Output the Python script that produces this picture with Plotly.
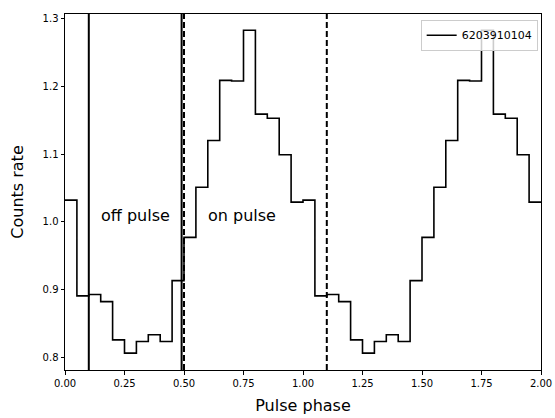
import plotly.graph_objects as go

# Pulse profile, 20 phase bins (width 0.05), shown over two cycles
bin_width = 0.05
profile = [1.032, 0.8905, 0.8925, 0.882, 0.8255, 0.806, 0.823, 0.833, 0.823, 0.913,
           0.977, 1.051, 1.120, 1.209, 1.208, 1.283, 1.159, 1.153, 1.099, 1.029]
n_cycles = 2
series_name = "6203910104"

# Phase boundaries
solid_lines = [0.1, 0.49]
dashed_lines = [0.5, 1.1]

labels = ["off pulse", "on pulse"]
label_x = [0.15, 0.6]
label_y = [1.0, 1.0]

x_ticks = [0.0, 0.25, 0.5, 0.75, 1.0, 1.25, 1.5, 1.75, 2.0]
y_ticks = [0.8, 0.9, 1.0, 1.1, 1.2, 1.3]

values = profile * n_cycles
edges = [i * bin_width for i in range(len(values) + 1)]
yvals = values + [values[-1]]

font = "DejaVu Sans"
fig = go.Figure()
fig.add_trace(go.Scatter(x=edges, y=yvals, mode="lines", line_shape="hv",
                         line=dict(color="black", width=1.6), name=series_name,
                         showlegend=True))

for xv in solid_lines:
    fig.add_shape(type="line", x0=xv, x1=xv, y0=0, y1=1, xref="x", yref="paper",
                  line=dict(color="black", width=2))
for xv in dashed_lines:
    fig.add_shape(type="line", x0=xv, x1=xv, y0=0, y1=1, xref="x", yref="paper",
                  line=dict(color="black", width=2, dash="6px,3px"))

for t, xv, yv in zip(labels, label_x, label_y):
    fig.add_annotation(x=xv, y=yv, text=t, showarrow=False, xanchor="left",
                       yanchor="bottom", yshift=-5, xshift=-2,
                       font=dict(size=16, color="black", family=font))

fig.update_layout(
    width=555, height=418,
    margin=dict(l=65, r=14, t=14, b=48),
    plot_bgcolor="white", paper_bgcolor="white",
    font=dict(family=font, color="black", size=10),
    legend=dict(x=0.993, y=0.984, xanchor="right", yanchor="top",
                bgcolor="rgba(255,255,255,0.8)", bordercolor="#cccccc", borderwidth=1,
                font=dict(size=11, family=font), itemwidth=30),
    showlegend=True,
)
fig.update_xaxes(range=[0, 2], tickvals=x_ticks, tickformat=".2f", automargin=False,
                 showgrid=False, zeroline=False, showline=True, linecolor="black",
                 linewidth=1, mirror=True, ticks="outside", ticklen=3.5, tickcolor="black",
                 title=dict(text="Pulse phase", font=dict(size=16, family=font), standoff=12),
                 tickfont=dict(size=10))
fig.update_yaxes(range=[0.781, 1.307], tickvals=y_ticks, tickformat=".1f", automargin=False,
                 showgrid=False, zeroline=False, showline=True, linecolor="black",
                 linewidth=1, mirror=True, ticks="outside", ticklen=3.5, tickcolor="black",
                 title=dict(text="Counts rate", font=dict(size=16, family=font), standoff=14),
                 tickfont=dict(size=10))

fig.write_html("out.html", config={"displayModeBar": False},
               post_script="document.body.style.margin='0';")
